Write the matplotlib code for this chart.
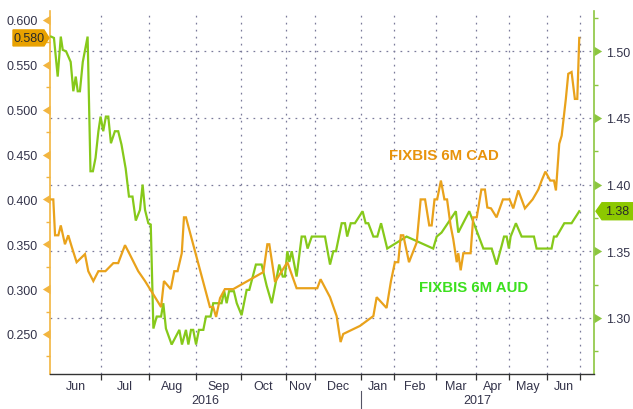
import matplotlib
matplotlib.use("Agg")
import matplotlib.pyplot as plt
from matplotlib.patches import Polygon
from matplotlib.path import Path
from matplotlib.transforms import IdentityTransform, blended_transform_factory
import numpy as np

# ---------------- data (x = trading-day index from start of chart) ----------------
cad_day = [0, 1.5, 2.3, 3.8, 4.9, 6.8, 8.3, 9.9, 12.1, 15.9, 17.4, 19.7, 22.0, 25.2, 28.8, 31.0,
           34.1, 36.0, 40.1, 43.2, 47.0, 50.5, 51.8, 54.9, 56.5, 58.0, 59.9, 60.9, 61.8, 72.7,
           74.2, 75.5, 77.3, 79.5, 83.3, 97.0, 98.8, 99.7, 102.3, 107.9, 112.1, 121.5, 123.0,
           127.3, 130.3, 132.1, 133.3, 140.9, 147.0, 148.5, 150.0, 153.0, 155.0, 156.8, 158.3,
           159.5, 160.6, 163.2, 166.7, 168.5, 170.5, 172.4, 173.5, 174.8, 176.0, 177.7, 179.3,
           180.5, 182.1, 183.3, 184.9, 185.6, 186.7, 187.9, 191.2, 192.4, 194.0, 196.1, 197.7,
           198.8, 200.5, 203.0, 205.9, 208.9, 210.6, 212.9, 215.9, 219.4, 222.0, 223.5, 225.2,
           227.4, 229.1, 230.0, 231.5, 232.6, 234.5, 235.6, 237.1, 238.6, 239.7, 240.6]
cad_val = [0.400, 0.400, 0.360, 0.360, 0.371, 0.350, 0.360, 0.347, 0.330, 0.339, 0.320, 0.309,
           0.320, 0.320, 0.329, 0.329, 0.349, 0.340, 0.320, 0.309, 0.294, 0.280, 0.309, 0.300,
           0.320, 0.320, 0.340, 0.380, 0.380, 0.280, 0.280, 0.269, 0.290, 0.300, 0.300, 0.319,
           0.350, 0.350, 0.308, 0.330, 0.301, 0.301, 0.311, 0.291, 0.270, 0.241, 0.250, 0.259,
           0.270, 0.291, 0.287, 0.279, 0.309, 0.330, 0.330, 0.360, 0.360, 0.330, 0.352, 0.400,
           0.400, 0.371, 0.371, 0.400, 0.400, 0.421, 0.400, 0.400, 0.371, 0.356, 0.330, 0.340,
           0.321, 0.340, 0.340, 0.380, 0.380, 0.411, 0.411, 0.391, 0.390, 0.380, 0.400, 0.400,
           0.390, 0.410, 0.390, 0.400, 0.411, 0.421, 0.431, 0.421, 0.421, 0.410, 0.462, 0.471,
           0.512, 0.540, 0.542, 0.512, 0.512, 0.580]

aud_day = [0.5, 1.8, 3.5, 4.9, 5.8, 7.3, 9.4, 10.6, 11.7, 12.6, 13.6, 14.9, 17.1, 18.4, 19.5,
           20.7, 22.0, 23.0, 24.2, 25.4, 26.5, 27.7, 29.5, 31.0, 32.5, 34.4, 35.9, 37.5, 39.0,
           40.9, 42.1, 43.2, 44.7, 45.8, 47.0, 48.5, 50.5, 51.5, 52.7, 55.3, 58.8, 60.0, 61.8,
           62.9, 64.1, 65.1, 66.4, 67.7, 69.7, 70.9, 73.0, 74.2, 78.0, 79.2, 80.3, 81.4, 83.6,
           84.9, 87.1, 89.4, 90.6, 93.6, 96.2, 98.5, 100.8, 104.2, 105.8, 106.8, 107.9, 108.8,
           109.9, 112.1, 114.4, 115.9, 117.1, 119.0, 125.0, 127.3, 128.8, 130.0, 132.6, 134.1,
           135.1, 136.7, 138.6, 142.1, 143.5, 144.7, 147.0, 148.8, 150.5, 153.3, 162.1, 174.2,
           175.8, 178.0, 184.5, 185.6, 190.6, 197.0, 200.8, 203.0, 205.3, 206.4, 207.6, 208.6,
           209.4, 211.8, 214.4, 220.0, 221.2, 228.0, 229.1, 230.3, 233.8, 237.1, 240.6]
aud_val = [1.511, 1.510, 1.481, 1.511, 1.501, 1.500, 1.492, 1.470, 1.481, 1.470, 1.470, 1.492,
           1.511, 1.410, 1.410, 1.420, 1.440, 1.451, 1.440, 1.451, 1.451, 1.431, 1.440, 1.440,
           1.430, 1.412, 1.391, 1.391, 1.373, 1.381, 1.400, 1.381, 1.371, 1.370, 1.292, 1.301,
           1.301, 1.311, 1.292, 1.280, 1.291, 1.280, 1.291, 1.280, 1.291, 1.291, 1.280, 1.291,
           1.291, 1.301, 1.301, 1.311, 1.311, 1.320, 1.311, 1.320, 1.320, 1.311, 1.302, 1.321,
           1.321, 1.340, 1.340, 1.324, 1.311, 1.340, 1.331, 1.331, 1.350, 1.342, 1.350, 1.331,
           1.361, 1.361, 1.352, 1.361, 1.361, 1.340, 1.350, 1.350, 1.371, 1.371, 1.361, 1.371,
           1.371, 1.380, 1.371, 1.371, 1.361, 1.361, 1.371, 1.352, 1.361, 1.352, 1.361, 1.364,
           1.380, 1.364, 1.380, 1.352, 1.352, 1.340, 1.354, 1.361, 1.361, 1.352, 1.361, 1.371,
           1.361, 1.361, 1.352, 1.352, 1.361, 1.361, 1.371, 1.371, 1.380]

month_bounds = [23.2, 45.0, 66.4, 86.8, 107.3, 120.5, 141.4, 156.4, 175.5, 193.6, 208.6, 225.9, 240.9]
month_labels = ["Jun", "Jul", "Aug", "Sep", "Oct", "Nov", "Dec", "Jan", "Feb", "Mar", "Apr", "May", "Jun"]
year_labels = ["2016", "2017"]
year_split = 141.4
x_start, x_end = 0.0, 247.3

cad_ticks = [0.250, 0.300, 0.350, 0.400, 0.450, 0.500, 0.550, 0.600]
aud_ticks = [1.30, 1.35, 1.40, 1.45, 1.50]
cad_name = "FIXBIS 6M CAD"
aud_name = "FIXBIS 6M AUD"

# ---------------- style ----------------
ORANGE = "#E9A21B"
ORANGE_SPINE = "#F2B540"
ORANGE_TEXT = "#E8930C"
GREEN = "#86C91A"
GREEN_SPINE = "#8CC63F"
GREEN_TEXT = "#3CE01E"
GRID = "#7A7A9A"
TXT = "#33334A"
FONT = ["Liberation Sans", "DejaVu Sans"]

W, H = 633, 410
fig = plt.figure(figsize=(W / 100, H / 100), dpi=100)
ax_l, ax_b, ax_t, ax_r = 50, 375, 12, 594
ax = fig.add_axes([ax_l / W, (H - ax_b) / H, (ax_r - ax_l) / W, (ax_b - ax_t) / H])
ax2 = ax.twinx()

# right axis (AUD) lives on ax, left axis (CAD) on ax2
ax.set_xlim(x_start, x_end)
ax.set_ylim(1.2579, 1.5302)
ax2.set_ylim(0.2054, 0.6100)

ax.plot(aud_day, aud_val, color=GREEN, lw=1.6, zorder=3, solid_joinstyle="miter")
ax2.plot(cad_day, cad_val, color=ORANGE, lw=1.6, zorder=3, solid_joinstyle="miter")

# grids
dot = (0, (1.4, 4.2))
ax.set_yticks(aud_ticks)
ax.set_yticks(np.arange(1.275, 1.53, 0.05), minor=True)
ax.yaxis.grid(True, which="major", color=GRID, ls=dot, lw=0.9)
ax.set_xticks(month_bounds)
ax.xaxis.grid(True, which="major", color=GRID, ls=dot, lw=0.9)
ax.set_xticklabels([""] * len(month_bounds))
mids = [(a + b) / 2 for a, b in zip([x_start] + month_bounds[:-1], month_bounds)]
ax.set_xticks(mids, minor=True)
ax.set_xticklabels(month_labels, minor=True, fontsize=9, color=TXT, family=FONT)
ax.tick_params(axis="x", which="major", length=4, width=0.9, color="#333333", direction="out")
ax.tick_params(axis="x", which="minor", length=0, pad=4)

# y axes
ax.yaxis.tick_right()
ax.tick_params(axis="y", which="major", length=0, pad=9, labelsize=9, labelcolor=TXT)
ax.tick_params(axis="y", which="minor", length=3, width=1, color=GREEN_SPINE, direction="out")
ax.set_yticklabels([f"{v:.2f}" for v in aud_ticks], family=FONT)

ax2.yaxis.tick_left()
ax2.set_yticks(cad_ticks)
ax2.set_yticks(np.arange(0.225, 0.61, 0.05), minor=True)
ax2.set_yticklabels([f"{v:.3f}" for v in cad_ticks], family=FONT)
ax2.tick_params(axis="y", which="major", length=0, pad=9, labelsize=9, labelcolor=TXT)
ax2.tick_params(axis="y", which="minor", length=3, width=1, color=ORANGE_SPINE, direction="out")

# spines
for s in ax2.spines.values():
    s.set_visible(False)
ax.spines["top"].set_visible(False)
ax.spines["left"].set_color(ORANGE_SPINE)
ax.spines["left"].set_linewidth(1.2)
ax.spines["right"].set_color(GREEN_SPINE)
ax.spines["right"].set_linewidth(1.2)
ax.spines["bottom"].set_color("#333333")
ax.spines["bottom"].set_linewidth(1.0)

# flag-shaped tick markers (base on the spine, pointing outwards)
flag_right = Path([(0, -0.8), (1.3, 0), (0, 0.8), (0, -0.8)], closed=True)
flag_left = Path([(0, -0.8), (-1.3, 0), (0, 0.8), (0, -0.8)], closed=True)
tr_r = blended_transform_factory(ax.transAxes, ax.transData)
ax.plot([1.0] * len(aud_ticks), aud_ticks, ls="none", marker=flag_right, ms=11,
        color=GREEN_SPINE, mew=0, transform=tr_r, clip_on=False, zorder=5)
tr_l = blended_transform_factory(ax2.transAxes, ax2.transData)
ax2.plot([0.0] * len(cad_ticks), cad_ticks, ls="none", marker=flag_left, ms=11,
         color=ORANGE_SPINE, mew=0, transform=tr_l, clip_on=False, zorder=5)

# year labels and separator
tr_x = blended_transform_factory(ax.transData, ax.transAxes)
year_centers = [(x_start + year_split) / 2, (year_split + x_end) / 2]
for xc, lab in zip(year_centers, year_labels):
    ax.text(xc, -0.072, lab, transform=tr_x, ha="center", va="center", fontsize=9,
            color=TXT, family=FONT)
ax.plot([year_split, year_split], [-0.048, -0.10], transform=tr_x, color="#555566",
        lw=0.8, clip_on=False)

# series names
ax.text(0.724, 0.603, cad_name, transform=ax.transAxes, ha="center", va="center",
        fontsize=10.8, fontweight="bold", color=ORANGE_TEXT,
        family=["Liberation Sans Narrow", "Liberation Sans", "DejaVu Sans"])
ax.text(0.778, 0.240, aud_name, transform=ax.transAxes, ha="center", va="center",
        fontsize=10.8, fontweight="bold", color=GREEN_TEXT,
        family=["Liberation Sans Narrow", "Liberation Sans", "DejaVu Sans"])

# last value tags
fig.canvas.draw()
yl = ax2.transData.transform((0, cad_val[-1]))[1]
xl = ax.bbox.x0
left_tag = Polygon([(13, yl - 8), (xl - 6, yl - 8), (xl - 1, yl), (xl - 6, yl + 8), (13, yl + 8)],
                   closed=True, transform=IdentityTransform(), facecolor="#E8A100",
                   edgecolor="#E8A100", zorder=10, clip_on=False)
fig.add_artist(left_tag)
fig.text((13 + xl - 4) / 2 / W, yl / H, f"{cad_val[-1]:.3f}", ha="center", va="center",
         fontsize=9, color="#2A2A2A", family=FONT, zorder=11)

yr = ax.transData.transform((0, aud_val[-1]))[1]
xr = ax.bbox.x1
right_tag = Polygon([(xr + 2, yr), (xr + 8, yr - 8.5), (W, yr - 8.5), (W, yr + 8.5), (xr + 8, yr + 8.5)],
                    closed=True, transform=IdentityTransform(), facecolor="#8CC800",
                    edgecolor="#8CC800", zorder=10, clip_on=False)
fig.add_artist(right_tag)
fig.text((xr + 8 + W) / 2 / W, yr / H, f"{aud_val[-1]:.2f}", ha="center", va="center",
         fontsize=9, color="#2A2A2A", family=FONT, zorder=11)

fig.savefig("out.png", dpi=100)
